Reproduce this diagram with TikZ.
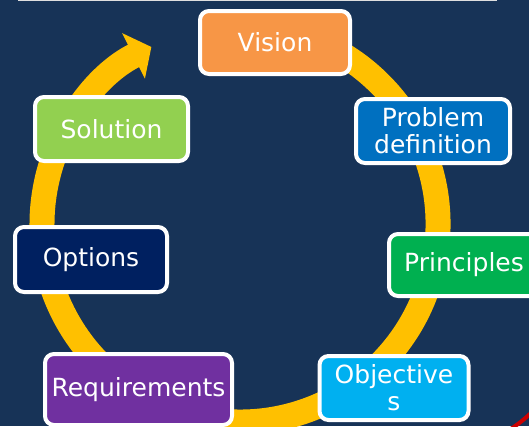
\documentclass[tikz,border=0pt]{standalone}
\usepackage{fontspec}
\setmainfont{DejaVu Sans}
\usetikzlibrary{arrows.meta}
\definecolor{navybg}{RGB}{23,51,87}
\definecolor{ringgold}{RGB}{255,192,0}
\definecolor{visioncol}{HTML}{F79646}
\definecolor{problemcol}{HTML}{0070C0}
\definecolor{principlecol}{HTML}{00B050}
\definecolor{objectivecol}{HTML}{00B0F0}
\definecolor{requirecol}{HTML}{7030A0}
\definecolor{optioncol}{HTML}{002060}
\definecolor{solutioncol}{HTML}{92D050}
\tikzstyle{stage}=[draw=white, line width=4pt, rounded corners=9pt, text=white,
    align=center, inner sep=0pt, minimum width=150pt, minimum height=63pt,
    font=\fontsize{25}{27}\selectfont]

\begin{document}
\begin{tikzpicture}[x=1pt, y=-1pt]
% Background
    \fill[navybg] (0,0) rectangle (529,426);
    \useasboundingbox (0,0) rectangle (529,426);
    \clip (0,0) rectangle (529,426);
    \fill[white!75!gray] (18,0) rectangle (497,1);
    \draw[red!80!black, line width=4pt] (506,432) to[bend right=6] (533,411);
% Ring
    \draw[ringgold, line width=25pt, -{Triangle[length=20pt, width=50pt]}]
        (274.4,29.0) arc[start angle=-80, end angle=243.4, radius=198];
% Stages
    \node[stage, fill=visioncol] (vision) at (275,42.5) {Vision};
    \node[stage, fill=problemcol, minimum width=154pt, minimum height=64pt] (problem) at (433,131) {Problem\\definition};
    \node[stage, fill=principlecol, minimum height=62pt] (principles) at (464,265) {Principles};
    \node[stage, fill=objectivecol, minimum width=149pt, minimum height=64pt] (objectives) at (394,388) {Objective\\s};
    \node[stage, fill=requirecol, minimum width=187pt, minimum height=71pt] (requirements) at (138.5,389.5) {Requirements};
    \node[stage, fill=optioncol, minimum width=152pt, minimum height=65pt] (options) at (91,259.5) {Options};
    \node[stage, fill=solutioncol, minimum width=153pt, minimum height=64pt] (solution) at (111.5,129) {Solution};
\end{tikzpicture}
\end{document}
